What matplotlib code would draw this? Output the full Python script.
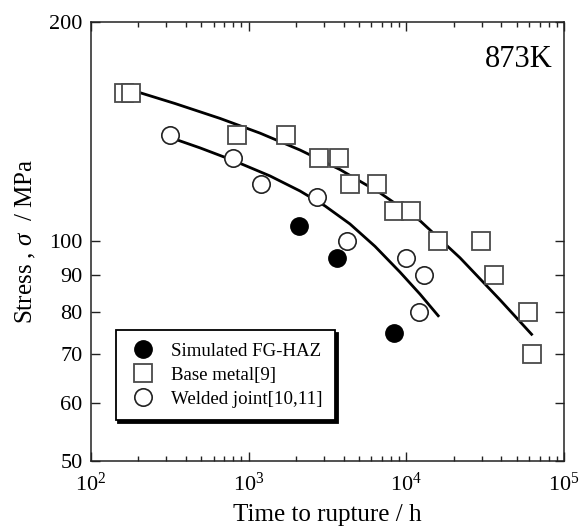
import numpy as np
import matplotlib
matplotlib.use('Agg')
import matplotlib.pyplot as plt
from matplotlib.ticker import LogLocator, NullLocator, FixedLocator, FixedFormatter

plt.rcParams['font.family'] = ['Liberation Serif', 'DejaVu Serif']
plt.rcParams['mathtext.fontset'] = 'custom'
plt.rcParams['mathtext.rm'] = 'Liberation Serif'
plt.rcParams['mathtext.it'] = 'Liberation Serif:italic'

# simulated FG-HAZ (filled circles)
haz_t = [2100, 3613, 8318]
haz_s = [105, 95, 75]

# base metal [9] (open squares)
base_t = [162, 180, 849, 1716, 2790, 3765, 4377, 6490, 8340, 10720, 15910, 29940, 36040, 59200, 63050]
base_s = [160, 160, 140, 140, 130, 130, 120, 120, 110, 110, 100, 100, 90, 80, 70]

# welded joint [10,11] (open circles)
weld_t = [318, 799, 1197, 2700, 4180, 9980, 13030, 11990]
weld_s = [140, 130, 120, 115, 100, 95, 90, 80]

# fitted curves, points
base_fit_t = [179, 341, 658, 1180, 2115, 3793, 6802, 12200, 21880, 39230, 62300]
base_fit_s = [161.4, 154.6, 147.5, 140.8, 133.5, 125.5, 116.6, 106.8, 95.0, 83.2, 74.6]
weld_fit_t = [317, 491, 795, 1365, 2115, 3046, 4388, 6322, 9108, 12200, 15930]
weld_fit_s = [138.9, 134.4, 129.2, 123.0, 117.3, 111.9, 105.7, 98.5, 90.8, 84.7, 79.1]

y_ticks = [50, 60, 70, 80, 90, 100, 200]

fig = plt.figure(figsize=(5.79, 5.27), dpi=100)
ax = fig.add_axes([0.1572, 0.1252, 0.8169, 0.8331])

ax.plot(base_fit_t, base_fit_s, color='black', lw=2.0, zorder=2)
ax.plot(weld_fit_t, weld_fit_s, color='black', lw=2.0, zorder=2)

ms = 12.5
ax.plot(haz_t, haz_s, 'o', ms=ms, mfc='black', mec='black', mew=1.0,
        label='Simulated FG-HAZ', zorder=3)
ax.plot(base_t, base_s, 's', ms=ms, mfc='white', mec='#4a4a4a', mew=1.3,
        label='Base metal[9]', zorder=3)
ax.plot(weld_t, weld_s, 'o', ms=ms, mfc='white', mec='#222222', mew=1.2,
        label='Welded joint[10,11]', zorder=3)

ax.set_xscale('log')
ax.set_yscale('log')
ax.set_xlim(1e2, 1e5)
ax.set_ylim(50, 200)

ax.xaxis.set_major_locator(LogLocator(base=10, numticks=10))
ax.xaxis.set_minor_locator(LogLocator(base=10, subs=np.arange(2, 10), numticks=10))
ax.yaxis.set_major_locator(FixedLocator(y_ticks))
ax.yaxis.set_major_formatter(FixedFormatter([str(v) for v in y_ticks]))
ax.yaxis.set_minor_locator(NullLocator())

ax.tick_params(which='major', direction='in', length=6.5, width=1.0,
               top=True, right=True, labelsize=16, color='#222222', labelcolor='black')
ax.tick_params(axis='x', which='major', pad=8)
ax.tick_params(axis='y', which='major', pad=6)
ax.tick_params(which='minor', direction='in', length=3.5, width=1.0, top=True, right=True,
               color='#222222')
for sp in ax.spines.values():
    sp.set_linewidth(1.1)
    sp.set_color('#222222')

ax.set_xlabel('Time to rupture / h', fontsize=18, labelpad=6)
ax.set_ylabel(r'Stress , $\sigma$  / MPa', fontsize=18, labelpad=8)

ax.text(0.975, 0.915, '873K', transform=ax.transAxes, ha='right', va='center', fontsize=22)

leg = ax.legend(loc='lower left', bbox_to_anchor=(0.052, 0.093), borderaxespad=0,
                fontsize=13.6, frameon=True, fancybox=False,
                shadow={'facecolor': 'black', 'edgecolor': 'black', 'alpha': 1},
                handlelength=1.6, handletextpad=0.7, labelspacing=0.36, borderpad=0.65)
leg.get_frame().set_edgecolor('black')
leg.get_frame().set_linewidth(1.3)

fig.savefig('out.png', dpi=100)
